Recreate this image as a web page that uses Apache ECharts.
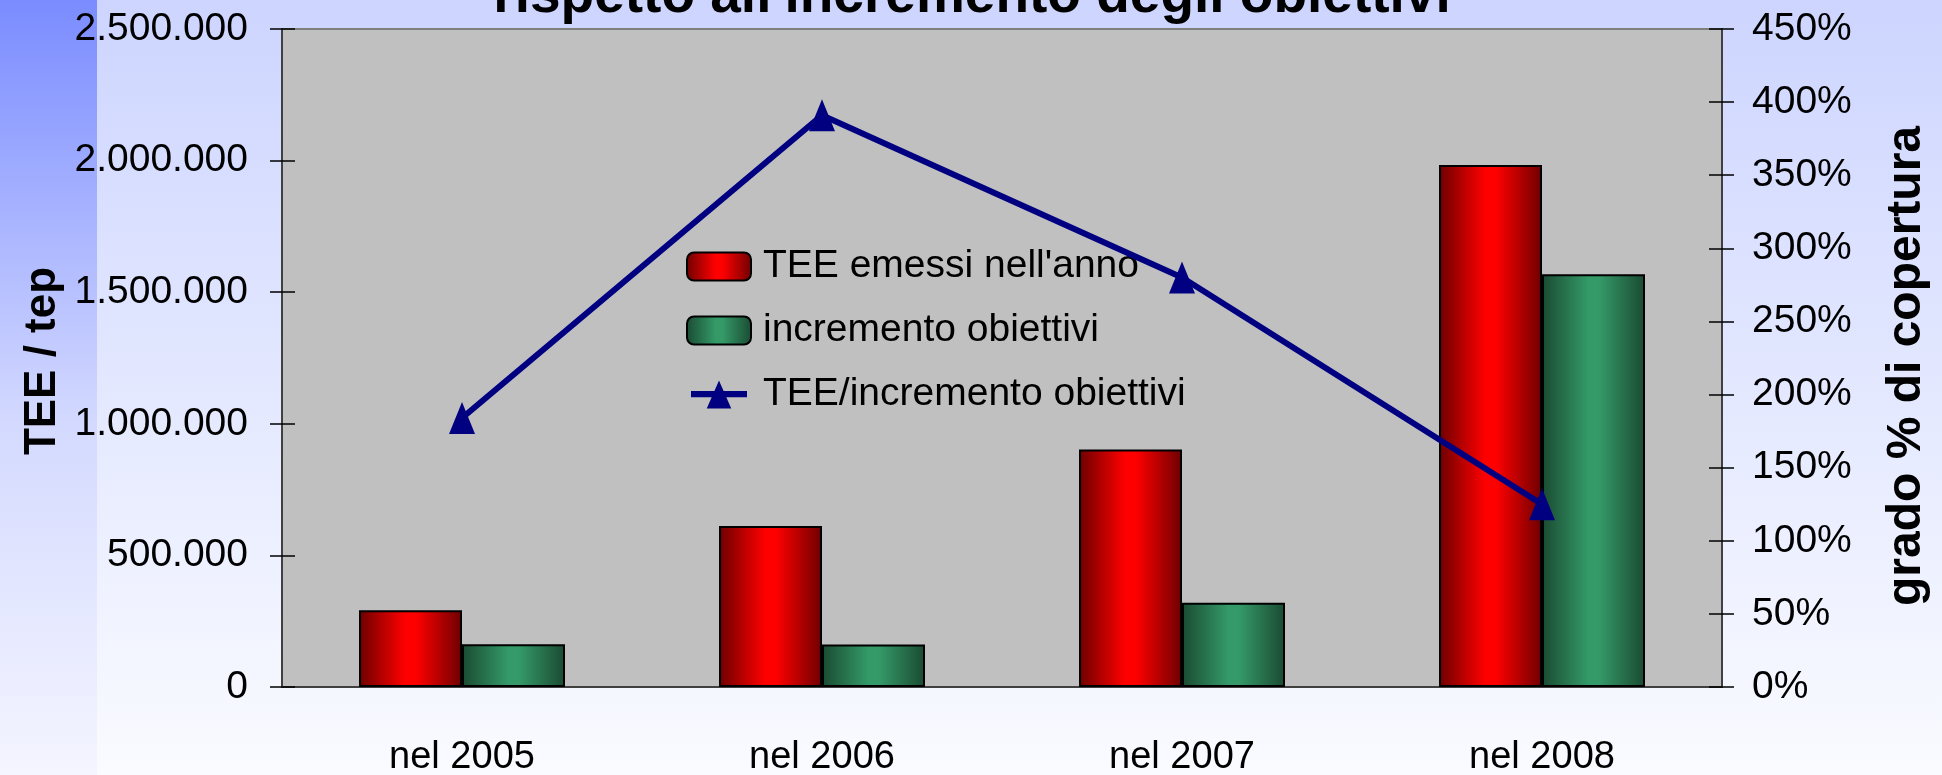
<!DOCTYPE html>
<html>
<head>
<meta charset="utf-8">
<title>TEE emessi rispetto all'incremento degli obiettivi</title>
<script src="https://cdn.jsdelivr.net/npm/echarts@6.0.0/dist/echarts.min.js"></script>
<style>
    html, body { margin: 0; padding: 0; }
    #main { width: 1942px; height: 775px; }
</style>
</head>
<body>
<div id="main"></div>
<script>
// dati
var categories = ['nel 2005', 'nel 2006', 'nel 2007', 'nel 2008'];
var teeEmessi = [292000, 612000, 902000, 1983000];
var incrementoObiettivi = [162000, 161000, 320000, 1568000];
var copertura = [184, 391, 280, 125]; // %

var leftTicks = { min: 0, max: 2500000, interval: 500000 };
var rightTicks = { min: 0, max: 450, interval: 50 };

var FONT = '"Liberation Sans", Arial, sans-serif';

function formatMigliaia(v) {
    return String(v).replace(/\B(?=(\d{3})+(?!\d))/g, '.');
}

function cilindro(edge, center) {
    return new echarts.graphic.LinearGradient(0, 0, 1, 0, [
        { offset: 0, color: edge },
        { offset: 0.45, color: center },
        { offset: 0.55, color: center },
        { offset: 1, color: edge }
    ]);
}

var chart = echarts.init(document.getElementById('main'));

chart.setOption({
    animation: false,
    backgroundColor: new echarts.graphic.LinearGradient(0, 0, 0, 1, [
        { offset: 0, color: '#cdd5ff' },
        { offset: 1, color: '#fafbff' }
    ]),
    graphic: [
        {
            type: 'rect',
            z: -100,
            shape: { x: 0, y: 0, width: 97, height: 775 },
            style: {
                fill: new echarts.graphic.LinearGradient(0, 0, 0, 1, [
                    { offset: 0, color: '#7a8cff' },
                    { offset: 0.55, color: '#d4daff' },
                    { offset: 1, color: '#f4f5ff' }
                ])
            }
        },
        {
            // titolo, la prima riga esce dal riquadro
            type: 'text',
            x: 972,
            y: -3,
            style: {
                text: "rispetto all'incremento degli obiettivi",
                fontFamily: FONT,
                fontSize: 55,
                fontWeight: 'bold',
                fill: '#000',
                align: 'center',
                verticalAlign: 'middle'
            }
        },
        {
            type: 'text',
            x: 43,
            y: 361,
            rotation: Math.PI / 2,
            style: {
                text: 'TEE / tep',
                fontFamily: FONT,
                fontSize: 44,
                fontWeight: 'bold',
                fill: '#000',
                align: 'center',
                verticalAlign: 'middle'
            }
        },
        {
            type: 'text',
            x: 1907,
            y: 366,
            rotation: Math.PI / 2,
            style: {
                text: 'grado % di copertura',
                fontFamily: FONT,
                fontSize: 48,
                fontWeight: 'bold',
                fill: '#000',
                align: 'center',
                verticalAlign: 'middle'
            }
        }
    ],
    grid: {
        left: 282,
        right: 220,
        top: 29,
        bottom: 88,
        outerBoundsMode: 'none',
        show: true,
        backgroundColor: '#c0c0c0',
        borderColor: '#808080',
        borderWidth: 2
    },
    legend: {
        orient: 'vertical',
        left: 681,
        top: 242,
        itemWidth: 64,
        itemHeight: 28,
        itemGap: 25,
        textStyle: {
            fontFamily: FONT,
            fontSize: 39,
            color: '#000',
            padding: [0, 0, 0, 7]
        },
        data: [
            'TEE emessi nell\'anno',
            'incremento obiettivi',
            {
                name: 'TEE/incremento obiettivi',
                // linea spessa con triangolo, come nella legenda originale
                icon: 'path://M0,12L64,12L64,19L0,19Z M32,0L46,32L18,32Z',
                itemStyle: { color: '#000080' }
            }
        ]
    },
    xAxis: [
        {
            type: 'category',
            position: 'bottom',
            data: categories,
            axisLine: { lineStyle: { color: '#404040', width: 2 } },
            axisTick: { length: 15, lineStyle: { color: '#000', width: 1.5 } },
            axisLabel: { fontFamily: FONT, fontSize: 38, color: '#000', margin: 52 }
        },
        {
            // tacche interne
            type: 'category',
            position: 'bottom',
            data: categories,
            axisLine: { show: false },
            axisTick: { inside: true, length: 15, lineStyle: { color: '#000', width: 1.5 } },
            axisLabel: { show: false }
        }
    ],
    yAxis: [
        {
            type: 'value',
            position: 'left',
            min: leftTicks.min,
            max: leftTicks.max,
            interval: leftTicks.interval,
            splitLine: { show: false },
            axisLine: { show: true, lineStyle: { color: '#404040', width: 2 } },
            axisTick: { show: true, length: 12, lineStyle: { color: '#000', width: 1.5 } },
            axisLabel: {
                fontFamily: FONT, fontSize: 39, color: '#000', margin: 34,
                formatter: formatMigliaia
            }
        },
        {
            type: 'value',
            position: 'right',
            min: rightTicks.min,
            max: rightTicks.max,
            interval: rightTicks.interval,
            splitLine: { show: false },
            axisLine: { show: true, lineStyle: { color: '#404040', width: 2 } },
            axisTick: { show: true, length: 12, lineStyle: { color: '#000', width: 1.5 } },
            axisLabel: { fontFamily: FONT, fontSize: 39, color: '#000', margin: 30, formatter: '{value}%' }
        },
        {
            type: 'value',
            position: 'left',
            min: leftTicks.min,
            max: leftTicks.max,
            interval: leftTicks.interval,
            splitLine: { show: false },
            axisLine: { show: false },
            axisTick: { show: true, inside: true, length: 13, lineStyle: { color: '#000', width: 1.5 } },
            axisLabel: { show: false }
        },
        {
            type: 'value',
            position: 'right',
            min: rightTicks.min,
            max: rightTicks.max,
            interval: rightTicks.interval,
            splitLine: { show: false },
            axisLine: { show: false },
            axisTick: { show: true, inside: true, length: 13, lineStyle: { color: '#000', width: 1.5 } },
            axisLabel: { show: false }
        }
    ],
    series: [
        {
            name: 'TEE emessi nell\'anno',
            type: 'bar',
            data: teeEmessi,
            barWidth: 103,
            barGap: '0%',
            itemStyle: {
                color: cilindro('#6e0000', '#ff0000'),
                borderColor: '#000',
                borderWidth: 2
            }
        },
        {
            name: 'incremento obiettivi',
            type: 'bar',
            data: incrementoObiettivi,
            barWidth: 103,
            barGap: '0%',
            itemStyle: {
                color: cilindro('#1a4a32', '#349a68'),
                borderColor: '#000',
                borderWidth: 2
            }
        },
        {
            name: 'TEE/incremento obiettivi',
            type: 'line',
            yAxisIndex: 1,
            data: copertura,
            symbol: 'triangle',
            symbolSize: [26, 32],
            itemStyle: { color: '#000080' },
            lineStyle: { color: '#000080', width: 6 },
            z: 5
        }
    ]
});
</script>
</body>
</html>
